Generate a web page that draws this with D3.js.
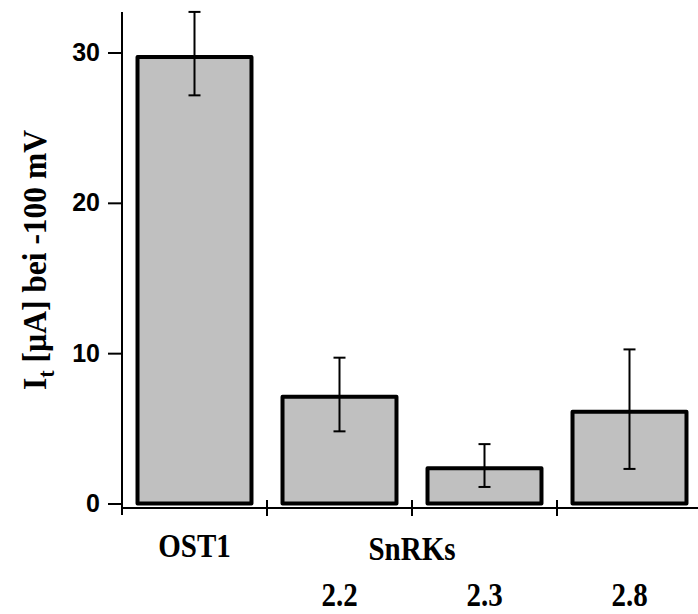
<!DOCTYPE html>
<html>
<head>
<meta charset="utf-8">
<script src="https://cdn.jsdelivr.net/npm/d3@7"></script>
<style>
  html, body { margin: 0; padding: 0; background: #fff; }
  svg { display: block; }
</style>
</head>
<body>
<svg id="chart" width="698" height="614"></svg>
<script>
// Kinase labels along the x axis and their mean currents with error ranges
const categories = ["OST1", "2.2", "2.3", "2.8"];
const means = [29.7, 7.1, 2.35, 6.1];
const errLow = [27.15, 4.8, 1.1, 2.3];
const errHigh = [32.7, 9.7, 3.95, 10.25];
const yTicks = [0, 10, 20, 30];
const groupLabel = "SnRKs";

const svg = d3.select("#chart");

const x = d3.scaleBand()
  .domain(categories)
  .range([122, 702])
  .paddingInner(0.214)
  .paddingOuter(0.107);

const y = d3.scaleLinear().domain([0, 30]).range([503.5, 52.5]);

const step = x.step();
const half = x.bandwidth() / 2;
const cx = d => x(d) + half;

// Bars
svg.append("g").selectAll("rect")
  .data(categories)
  .join("rect")
  .attr("x", d => x(d))
  .attr("width", x.bandwidth())
  .attr("y", (d, i) => y(means[i]))
  .attr("height", (d, i) => y(0) - y(means[i]))
  .attr("fill", "#c0c0c0")
  .attr("stroke", "#000")
  .attr("stroke-width", 4)
  .attr("stroke-linejoin", "round");

// Error bars
const eb = svg.append("g").attr("stroke", "#000").attr("stroke-width", 2);
categories.forEach((d, i) => {
  eb.append("line").attr("x1", cx(d)).attr("x2", cx(d))
    .attr("y1", y(errLow[i])).attr("y2", y(errHigh[i]));
  [errLow[i], errHigh[i]].forEach(v => {
    eb.append("line").attr("x1", cx(d) - 6).attr("x2", cx(d) + 6)
      .attr("y1", y(v)).attr("y2", y(v));
  });
});

// Y axis
const yAxis = d3.axisLeft(y).tickValues(yTicks).tickSize(14).tickPadding(8);
const gy = svg.append("g").attr("transform", "translate(122,0)").call(yAxis);
gy.select(".domain").remove();
gy.selectAll(".tick line").attr("stroke-width", 2);
gy.selectAll(".tick text")
  .attr("font-family", "'Liberation Sans', Arial, sans-serif")
  .attr("font-weight", "bold")
  .attr("font-size", 25)
  .attr("fill", "#000");
svg.append("line").attr("x1", 122).attr("x2", 122).attr("y1", 12).attr("y2", 515)
  .attr("stroke", "#000").attr("stroke-width", 2);

// X axis line with group separator ticks
svg.append("line").attr("x1", 122).attr("x2", 698).attr("y1", 508).attr("y2", 508)
  .attr("stroke", "#000").attr("stroke-width", 2);
svg.append("g").selectAll("line")
  .data(categories.slice(1))
  .join("line")
  .attr("x1", d => x(d) - step * x.paddingInner() / 2)
  .attr("x2", d => x(d) - step * x.paddingInner() / 2)
  .attr("y1", 500).attr("y2", 516)
  .attr("stroke", "#000").attr("stroke-width", 2);

// Category labels (serif bold, slightly tall glyphs)
const serif = "'Liberation Serif', 'Times New Roman', serif";
function label(px, py, txt) {
  svg.append("text")
    .attr("transform", `translate(${px},${py}) scale(1,1.13)`)
    .attr("text-anchor", "middle")
    .attr("font-family", serif).attr("font-weight", "bold").attr("font-size", 29)
    .text(txt);
}
label(cx(categories[0]), 557, categories[0]);
label((cx(categories[2]) + cx(categories[1])) / 2, 560, groupLabel);
categories.slice(1).forEach(d => label(cx(d), 606, d));

// Y axis title
const title = svg.append("text")
  .attr("transform", "translate(46,260) rotate(-90) scale(1.05,1.1)")
  .attr("text-anchor", "middle")
  .attr("font-family", serif).attr("font-weight", "bold").attr("font-size", 30);
title.append("tspan").text("I");
title.append("tspan").attr("font-size", 21).attr("dy", 7).text("t");
title.append("tspan").attr("dy", -7).text(" [µA] bei -100 mV");
</script>
</body>
</html>
